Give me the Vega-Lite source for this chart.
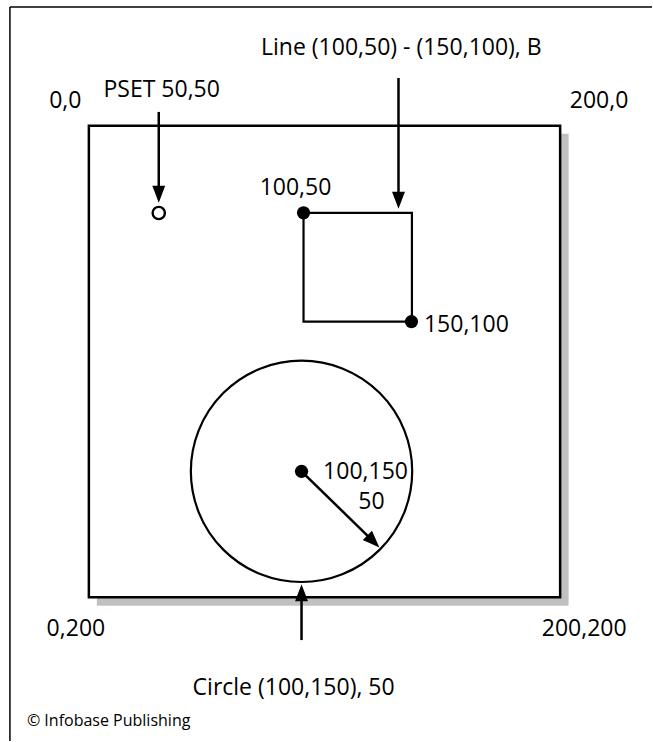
{
  "$schema": "https://vega.github.io/schema/vega-lite/v6.json",
  "width": 653,
  "height": 742,
  "autosize": {"type": "fit", "contains": "padding"},
  "padding": 0,
  "background": "white",
  "view": {"stroke": null},
  "config": {"text": {"font": "Open Sans", "color": "black"}},
  "datasets": {
    "frame": [
      {"x": -33.5, "y": -50.4, "x2": -33.5, "y2": 261},
      {"x": -33.5, "y": -50.4, "x2": 238.98, "y2": -50.4}
    ],
    "shadow": [{"x": 3.4, "y": 3.4, "x2": 203.6, "y2": 203.6}],
    "screen": [{"x": 0, "y": 0, "x2": 200, "y2": 200}],
    "boxLine": [{"x": 91.1, "y": 36.9, "x2": 137.1, "y2": 83.1}],
    "shafts": [
      {"x": 29.66, "y": -5.9, "x2": 29.66, "y2": 27.5},
      {"x": 131.4, "y": -20.3, "x2": 131.4, "y2": 30},
      {"x": 90.25, "y": 218.2, "x2": 90.25, "y2": 199.5},
      {"x": 90.25, "y": 146.6, "x2": 120.5, "y2": 176.1}
    ],
    "headsDown": [
      {"x": 29.66, "y": 32.6},
      {"x": 131.4, "y": 35.2}
    ],
    "headsUp": [{"x": 90.25, "y": 194.5}],
    "headsDiag": [{"x": 123.3, "y": 178.9}],
    "pset": [{"x": 29.66, "y": 37.0}],
    "dots": [
      {"x": 91.1, "y": 36.9},
      {"x": 136.9, "y": 83.05},
      {"x": 90.25, "y": 146.6}
    ],
    "circle": [{"x": 90.25, "y": 146.6, "r": 50}],
    "labels": [
      {"x": 132.6, "y": -30.1, "label": "Line (100,50) - (150,100), B"},
      {"x": 30.9, "y": -12.3, "label": "PSET 50,50"},
      {"x": -10.0, "y": -7.6, "label": "0,0"},
      {"x": 216.5, "y": -7.6, "label": "200,0"},
      {"x": 87.7, "y": 29.2, "label": "100,50"},
      {"x": 160.2, "y": 87.3, "label": "150,100"},
      {"x": 117.4, "y": 150.0, "label": "100,150"},
      {"x": 119.9, "y": 162.7, "label": "50"},
      {"x": -5.5, "y": 216.5, "label": "0,200"},
      {"x": 210.2, "y": 216.5, "label": "200,200"},
      {"x": 86.9, "y": 241.5, "label": "Circle (100,150), 50"}
    ],
    "credit": [{"x": -26.3, "y": 254.7, "label": "© Infobase Publishing"}]
  },
  "layer": [
    {
      "data": {"name": "frame"},
      "mark": {"type": "rule", "color": "black", "strokeWidth": 1.5},
      "encoding": {
        "x": {"field": "x", "type": "quantitative", "axis": null, "scale": {"domain": [-37.712, 238.983], "nice": false, "zero": false}},
        "y": {"field": "y", "type": "quantitative", "axis": null, "scale": {"domain": [-53.39, 261.02], "nice": false, "zero": false, "reverse": true}},
        "x2": {"field": "x2"},
        "y2": {"field": "y2"}
      }
    },
    {
      "data": {"name": "shadow"},
      "mark": {"type": "rect", "color": "#c0c0c0"},
      "encoding": {
        "x": {"field": "x", "type": "quantitative"},
        "y": {"field": "y", "type": "quantitative"},
        "x2": {"field": "x2"},
        "y2": {"field": "y2"}
      }
    },
    {
      "data": {"name": "screen"},
      "mark": {"type": "rect", "fill": "white", "stroke": "black", "strokeWidth": 2.5},
      "encoding": {
        "x": {"field": "x", "type": "quantitative"},
        "y": {"field": "y", "type": "quantitative"},
        "x2": {"field": "x2"},
        "y2": {"field": "y2"}
      }
    },
    {
      "data": {"name": "boxLine"},
      "mark": {"type": "rect", "fill": null, "fillOpacity": 0, "stroke": "black", "strokeWidth": 2.2},
      "encoding": {
        "x": {"field": "x", "type": "quantitative"},
        "y": {"field": "y", "type": "quantitative"},
        "x2": {"field": "x2"},
        "y2": {"field": "y2"}
      }
    },
    {
      "data": {"name": "circle"},
      "mark": {"type": "point", "shape": "circle", "filled": false, "stroke": "black", "strokeWidth": 2.2, "size": 49000, "opacity": 1},
      "encoding": {
        "x": {"field": "x", "type": "quantitative"},
        "y": {"field": "y", "type": "quantitative"}
      }
    },
    {
      "data": {"name": "shafts"},
      "mark": {"type": "rule", "color": "black", "strokeWidth": 2.5},
      "encoding": {
        "x": {"field": "x", "type": "quantitative"},
        "y": {"field": "y", "type": "quantitative"},
        "x2": {"field": "x2"},
        "y2": {"field": "y2"}
      }
    },
    {
      "data": {"name": "headsDown"},
      "mark": {"type": "point", "shape": "M0,0L-0.38,-1L0.38,-1Z", "filled": true, "color": "black", "size": 1156, "opacity": 1, "angle": 0},
      "encoding": {
        "x": {"field": "x", "type": "quantitative"},
        "y": {"field": "y", "type": "quantitative"}
      }
    },
    {
      "data": {"name": "headsUp"},
      "mark": {"type": "point", "shape": "M0,0L-0.38,-1L0.38,-1Z", "filled": true, "color": "black", "size": 1156, "opacity": 1, "angle": 180},
      "encoding": {
        "x": {"field": "x", "type": "quantitative"},
        "y": {"field": "y", "type": "quantitative"}
      }
    },
    {
      "data": {"name": "headsDiag"},
      "mark": {"type": "point", "shape": "M0,0L-0.38,-1L0.38,-1Z", "filled": true, "color": "black", "size": 1156, "opacity": 1, "angle": 315},
      "encoding": {
        "x": {"field": "x", "type": "quantitative"},
        "y": {"field": "y", "type": "quantitative"}
      }
    },
    {
      "data": {"name": "pset"},
      "mark": {"type": "point", "shape": "circle", "filled": false, "stroke": "black", "fill": "white", "strokeWidth": 2.4, "size": 150, "opacity": 1},
      "encoding": {
        "x": {"field": "x", "type": "quantitative"},
        "y": {"field": "y", "type": "quantitative"}
      }
    },
    {
      "data": {"name": "dots"},
      "mark": {"type": "point", "shape": "circle", "filled": true, "color": "black", "size": 175, "opacity": 1},
      "encoding": {
        "x": {"field": "x", "type": "quantitative"},
        "y": {"field": "y", "type": "quantitative"}
      }
    },
    {
      "data": {"name": "labels"},
      "mark": {"type": "text", "align": "center", "baseline": "alphabetic", "fontSize": 23},
      "encoding": {
        "x": {"field": "x", "type": "quantitative"},
        "y": {"field": "y", "type": "quantitative"},
        "text": {"field": "label"}
      }
    },
    {
      "data": {"name": "credit"},
      "mark": {"type": "text", "align": "left", "baseline": "alphabetic", "fontSize": 16},
      "encoding": {
        "x": {"field": "x", "type": "quantitative"},
        "y": {"field": "y", "type": "quantitative"},
        "text": {"field": "label"}
      }
    }
  ]
}
